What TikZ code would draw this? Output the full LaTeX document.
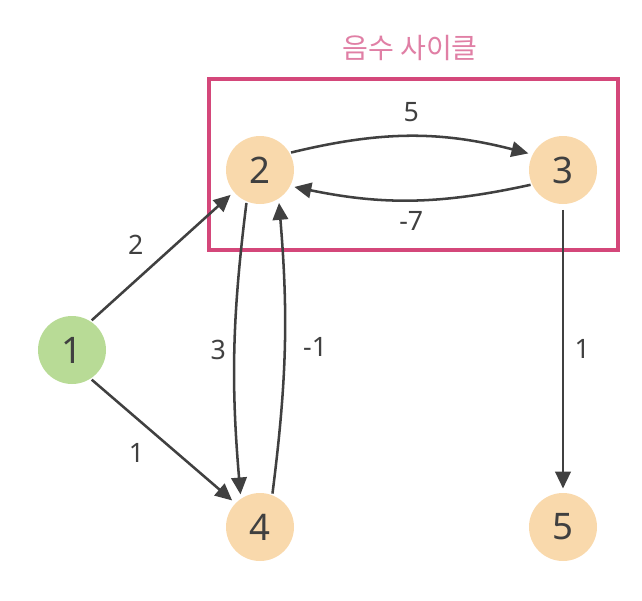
\documentclass[tikz,border=0pt]{standalone}
\usepackage{fontspec}
\setmainfont{Noto Sans}
\newfontfamily\korfont{Noto Sans CJK KR}
\usetikzlibrary{arrows.meta, positioning}
\definecolor{edge-gray}{HTML}{404040}
\definecolor{cyc-pink}{HTML}{D4477A}
\definecolor{title-pink}{HTML}{E07FA5}
\definecolor{start-green}{HTML}{B8DB96}
\definecolor{vert-peach}{HTML}{F9D9AC}
\tikzset{
  vert/.style={circle, fill=vert-peach, minimum size=1.7cm, inner sep=0pt,
    text=edge-gray, font=\fontsize{26}{28}\selectfont},
  wedge/.style={-{Triangle[length=12pt,width=11pt]}, line width=1.8pt, edge-gray,
    shorten >=3pt, shorten <=1pt},
  wlabel/.style={text=edge-gray, font=\fontsize{19}{21}\selectfont}
}
\begin{document}
\begin{tikzpicture}
\useasboundingbox (0,0) rectangle (16.05,-15);
\node[vert, fill=start-green] (1) at (1.8,-8.75) {1};
\node[vert] (2) at (6.5,-4.25) {2};
\node[vert] (3) at (14.075,-4.25) {3};
\node[vert] (4) at (6.5,-13.175) {4};
\node[vert] (5) at (14.075,-13.175) {5};
% negative cycle box
\draw[cyc-pink, line width=3.4pt] (5.225,-1.975) rectangle (15.45,-6.25);
\node[text=title-pink, font=\korfont\fontsize{20}{22}\selectfont] (title) at (10.25,-1.2) {음수 사이클};
\draw
(1.57) edge[wedge] node[wlabel, above left=2pt and 4pt, pos=0.45] {2} (2.220)
(1.-57) edge[wedge] node[wlabel, below left=2pt and 4pt, pos=0.45] {1} (4.136)
(2.30) edge[wedge, bend left=14] node[wlabel, above=6pt] {5} (3.153)
(3.205) edge[wedge, bend left=12] node[wlabel, below=4pt] {-7} (2.-28)
(2.247) edge[wedge, bend right=6] node[wlabel, left=2pt] {3} (4.124)
(4.69) edge[wedge, bend right=6] node[wlabel, right=9pt] {-1} (2.-57)
(3.-90) edge[wedge, shorten <=4pt] node[wlabel, right=4pt] {1} (5.90);
\end{tikzpicture}
\end{document}
